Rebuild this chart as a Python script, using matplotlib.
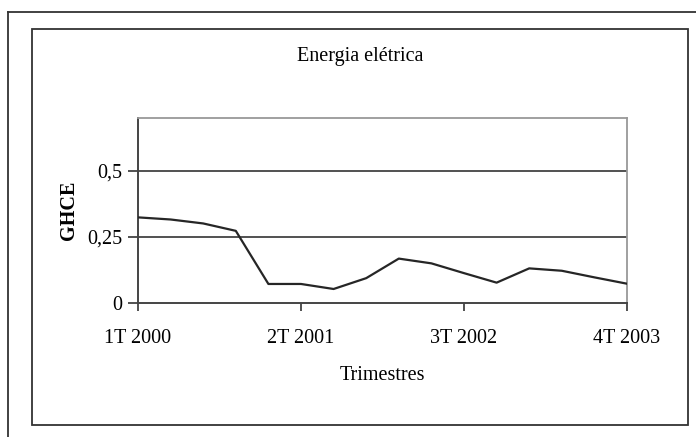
import matplotlib
matplotlib.use("Agg")
import matplotlib.pyplot as plt
from matplotlib.patches import Rectangle
from matplotlib.lines import Line2D

quarters = [f"{q}T {y}" for y in range(2000, 2004) for q in range(1, 5)]
ghce = [0.324, 0.316, 0.301, 0.273, 0.072, 0.072, 0.053, 0.094,
        0.168, 0.150, 0.113, 0.077, 0.131, 0.122, 0.097, 0.073]
tick_idx = [0, 5, 10, 15]
yticks = [0, 0.25, 0.5]
ytick_labels = ["0", "0,25", "0,5"]

plt.rcParams['font.family'] = ['Liberation Serif', 'DejaVu Serif']

W, H = 696, 437
fig = plt.figure(figsize=(W / 100, H / 100), dpi=100)

# outer frame (only top and left visible)
fig.add_artist(Line2D([8 / W, 1.0], [1 - 11.5 / H, 1 - 11.5 / H], color='#333333', lw=1.3,
                      transform=fig.transFigure))
fig.add_artist(Line2D([8 / W, 8 / W], [1 - 11.5 / H, 0.0], color='#333333', lw=1.3,
                      transform=fig.transFigure))
# inner frame
fig.add_artist(Rectangle((32 / W, 1 - 425 / H), 656 / W, 396 / H, fill=False,
                         edgecolor='#333333', lw=1.3, transform=fig.transFigure))

ax = fig.add_axes([138 / W, 1 - 303 / H, 489 / W, 185 / H])
x = list(range(len(ghce)))
ax.plot(x, ghce, color='#262626', lw=1.6, zorder=3)
ax.set_xlim(0, len(ghce) - 1)
ax.set_ylim(0, 0.7)

fs = 14.5
ax.set_yticks(yticks)
ax.set_yticklabels(ytick_labels, fontsize=fs)
ax.set_xticks(tick_idx)
ax.set_xticklabels([quarters[i] for i in tick_idx], fontsize=fs)
ax.tick_params(axis='y', direction='out', length=7, width=1.2, color='#333333', pad=4)
ax.tick_params(axis='x', direction='out', length=6, width=1.2, color='#333333', pad=13)

for v in [0.25, 0.5]:
    ax.axhline(v, color='#222222', lw=1.1, zorder=1)

for s in ['top', 'right']:
    ax.spines[s].set_color('#999999')
    ax.spines[s].set_linewidth(1.3)
for s in ['left', 'bottom']:
    ax.spines[s].set_color('#444444')
    ax.spines[s].set_linewidth(1.4)

ax.set_xlabel("Trimestres", fontsize=fs, labelpad=13)
ax.set_ylabel("GHCE", fontsize=fs, fontweight='bold', labelpad=6)

fig.text(360 / W, 1 - 57 / H, "Energia elétrica", ha='center', va='center', fontsize=fs)

fig.savefig("out.png", dpi=100)
